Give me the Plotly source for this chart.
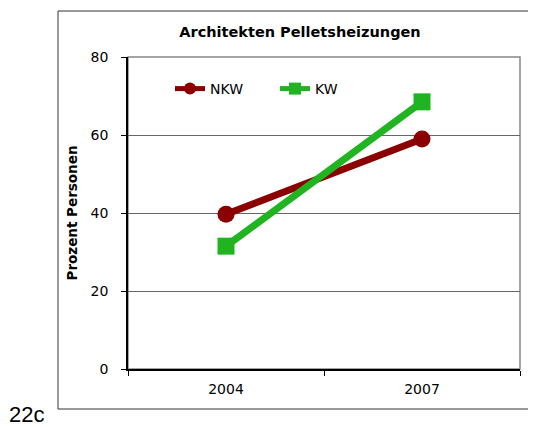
import plotly.graph_objects as go

years = ["2004", "2007"]
nkw = [39.7, 59.0]
kw = [31.5, 68.5]
y_ticks = [0, 20, 40, 60, 80]

# page body has an 8px margin; work in screen pixels and compensate
OFF = 8
W, H = 536 - OFF, 427 - OFF
PL, PR, PT, PB = 128, 520, 57, 369  # plot area in screen pixels
L, R, T, B = PL - OFF, (W + OFF) - PR, PT - OFF, (H + OFF) - PB
pw, ph = PR - PL, PB - PT

def px_x(x):
    return (x - PL) / pw

def px_y(y):
    return (PB - y) / ph

fig = go.Figure()
fig.add_trace(go.Scatter(x=years, y=nkw, name="NKW", mode="lines+markers",
                         line=dict(color="#8B0000", width=7),
                         marker=dict(symbol="circle", size=17, color="#8B0000")))
fig.add_trace(go.Scatter(x=years, y=kw, name="KW", mode="lines+markers",
                         line=dict(color="#21B421", width=7),
                         marker=dict(symbol="square", size=17, color="#21B421")))

fig.update_layout(
    width=W, height=H,
    margin=dict(l=L, r=R, t=T, b=B),
    paper_bgcolor="white", plot_bgcolor="white",
    font=dict(family="DejaVu Sans", size=14, color="black"),
    title=dict(text="<b>Architekten Pelletsheizungen</b>", x=px_x(300), xanchor="center",
               xref="paper", y=1 - (32 - OFF) / H, yanchor="middle", font=dict(size=14.5)),
    showlegend=True,
    legend=dict(orientation="h", x=px_x(170), xanchor="left", y=px_y(89), yanchor="middle",
                bgcolor="rgba(0,0,0,0)", font=dict(size=14), itemwidth=30,
                entrywidth=60, itemsizing="constant", tracegroupgap=0),
    xaxis=dict(type="category", range=[-0.5, 1.5], tickson="boundaries",
               ticks="outside", ticklen=5, tickcolor="black",
               showline=True, linecolor="black", linewidth=1.5,
               showgrid=False, tickfont=dict(size=14), fixedrange=True,
               ticklabelstandoff=6),
    yaxis=dict(range=[0, 80], tickvals=y_ticks, ticks="outside", ticklen=5,
               tickcolor="black", showline=True, linecolor="black", linewidth=1.5,
               showgrid=True, gridcolor="#666", gridwidth=1, zeroline=False,
               ticklabelstandoff=10,
               title=dict(text="<b>Prozent Personen</b>", standoff=10,
                          font=dict(size=13.5)),
               tickfont=dict(size=14)),
)

# gray top/right plot border
fig.add_shape(type="rect", xref="paper", yref="paper", x0=0, x1=1, y0=0, y1=1,
              line=dict(color="#888", width=1.5), layer="below")
# outer chart box
fig.add_shape(type="rect", xref="paper", yref="paper",
              x0=px_x(58), x1=px_x(545), y0=px_y(409), y1=px_y(11),
              line=dict(color="#333", width=1))
fig.add_annotation(text="22c", xref="paper", yref="paper", x=px_x(7), y=px_y(414),
                   xanchor="left", yanchor="middle", showarrow=False,
                   font=dict(family="Liberation Sans", size=22, color="black"))

fig.write_html("out.html")
